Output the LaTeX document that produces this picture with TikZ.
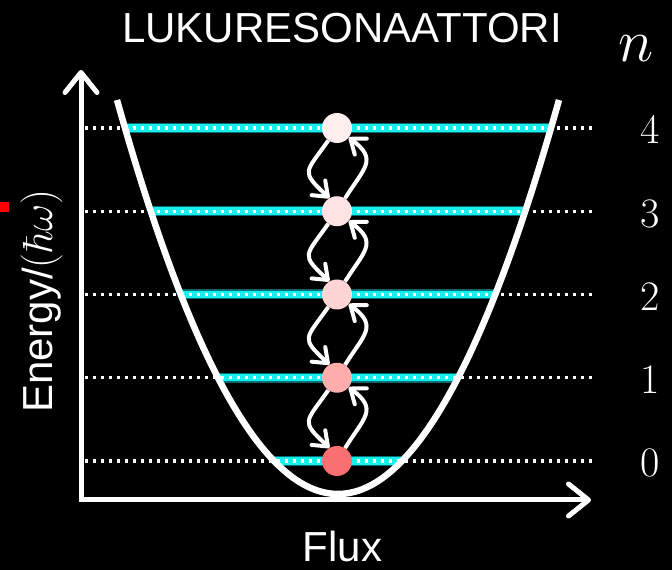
\RequirePackage{fix-cm}
\documentclass[tikz,border=0pt]{standalone}
\usepackage{fontspec}
\newfontfamily\arial{Liberation Sans}
\usetikzlibrary{arrows.meta}

\definecolor{levelcyan}{RGB}{20,240,240}
\definecolor{dot0}{RGB}{250,112,112}
\definecolor{dot1}{RGB}{255,172,172}
\definecolor{dot2}{RGB}{255,212,212}
\definecolor{dot3}{RGB}{255,226,226}
\definecolor{dot4}{RGB}{255,238,238}

\begin{document}
\begin{tikzpicture}[x=1pt,y=1pt,
  sanslbl/.style={text=white, inner sep=0pt, font=\arial\fontsize{42}{48}\selectfont},
  numlbl/.style={text=white, inner sep=0pt, font=\fontsize{42}{48}\selectfont},
  glow/.style={levelcyan, opacity=0.45, line width=10pt},
  levelband/.style={levelcyan, line width=7.5pt},
  dots/.style={white, line width=3.3pt, dash pattern=on 3.3pt off 4.7pt},
  well/.style={white, line width=6.5pt},
  axis/.style={white, line width=5pt, line join=miter,
    {Straight Barb[length=20pt,width=32pt,round]}-{Straight Barb[length=20pt,width=32pt,round]}},
  state/.style={circle, minimum size=30pt, inner sep=0pt},
  hop/.style={white, line width=4pt,
    -{Straight Barb[length=13pt,width=20pt,round]}}]

\useasboundingbox[fill=black] (0,0) rectangle (672,570);

% small red marker on the left edge
\fill[red] (0,358) rectangle (9,368);

% cyan level bands, kept inside the potential well
\begin{scope}
  \clip (117,470) .. controls (264.33,-55.33) and (411.67,-55.33) .. (559,470) -- cycle;
  \foreach \n in {0,...,4}{
    \pgfmathsetmacro\ly{109+83.25*\n}
    \draw[glow] (100,\ly) -- (580,\ly);
    \draw[levelband] (100,\ly) -- (580,\ly);
  }
\end{scope}

% dotted level lines across the whole plot
\foreach \n in {0,...,4}{
  \pgfmathsetmacro\ly{109+83.25*\n}
  \draw[dots] (85,\ly) -- (593,\ly);
}

% parabolic potential
\draw[well] (117,470) .. controls (264.33,-55.33) and (411.67,-55.33) .. (559,470);

% axes
\coordinate (ytip) at (81,500);
\coordinate (origin) at (81,70);
\coordinate (xtip) at (591,70);
\draw[axis] (ytip) -- (origin) -- (xtip);

% states
\foreach \n in {0,...,4}{
  \pgfmathsetmacro\ly{109+83.25*\n}
  \node[state, fill=dot\n] (c\n) at (337,\ly) {};
  \node[numlbl, anchor=base] (d\n) at (650,\ly-16) {\n};
}

% transitions between neighbouring states
\foreach \u/\l in {1/0,2/1,3/2,4/3}{
  \draw[hop] (c\u.-125) to[out=-125,in=137,looseness=1.78] (c\l.120);
  \draw[hop] (c\l.58) to[out=58,in=-37,looseness=1.55] (c\u.-39);
}

% labels
\node[sanslbl, anchor=base] (title) at (342,527) {LUKURESONAATTORI};
\node[sanslbl, anchor=base] (flux) at (342.5,8) {Flux};
\node[sanslbl, rotate=90, anchor=base] (energy) at (52,269) {Energy/$(\hbar\omega)$};
\node[text=white, inner sep=0pt, font=\fontsize{60}{68}\selectfont, anchor=base] (nlabel) at (636,508) {$n$};

\end{tikzpicture}
\end{document}
